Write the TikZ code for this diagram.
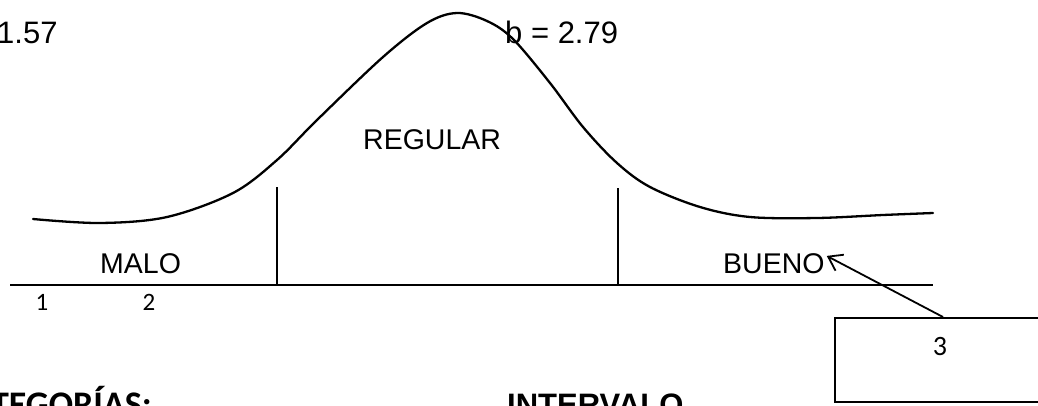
\documentclass[tikz,border=0pt]{standalone}
\usepackage{fontspec}
\setmainfont{Liberation Sans}
\newfontfamily\calib{Carlito}
\usetikzlibrary{arrows.meta,calc}
\begin{document}
\begin{tikzpicture}[x=1pt,y=-1pt,
  lbl/.style={inner sep=0pt, anchor=base west, font=\fontsize{28.5}{30}\selectfont},
  big/.style={inner sep=0pt, anchor=base west, font=\fontsize{31}{33}\selectfont},
  num/.style={inner sep=0pt, anchor=base, font=\calib\fontsize{25}{27}\selectfont},
  ln/.style={line width=1.8pt},
  crv/.style={line width=2.3pt, line join=round, line cap=round},
  head/.style={inner sep=0pt, font=\bfseries\fontsize{31}{33}\selectfont}]
\useasboundingbox (0,0) rectangle (1038,405);
\clip (0,0) rectangle (1038,405);
% labels
\node[big] (a) at (-3,43) {1.57};
\node[big] (b) at (505,43) {b = 2.79};
\node[lbl] (regular) at (363,149) {REGULAR};
\node[lbl] (malo) at (100,273) {MALO};
\node[lbl] (bueno) at (723,273) {BUENO};
\node[num] (n1) at (42,310) {1};
\node[num] (n2) at (149,310) {2};
% curve
\draw[crv] plot[smooth, tension=0.55] coordinates {
 (33,219) (100,223) (167,217) (233,193) (277,160) (317,120) (383,57)
 (427,23) (457,13) (487,21) (513,39) (550,83) (583,127) (617,163)
 (650,187) (700,207) (750,217) (817,218) (883,215) (933,213)};
% axis and verticals
\coordinate (axL) at (10,285);
\coordinate (axR) at (933,285);
\coordinate (v1b) at (277,285);
\coordinate (v1t) at (277,187);
\coordinate (v2b) at (618,285);
\coordinate (v2t) at (618,188);
\draw[ln] (axL) -- (axR);
\draw[ln] (v1b) -- (v1t);
\draw[ln] (v2b) -- (v2t);
% box
\node[draw, ln, anchor=north west, inner sep=0pt, minimum width=230pt, minimum height=84pt] (box) at (834,317) {};
\node[num, font=\calib\fontsize{28}{30}\selectfont] (n3) at (940,355) {3};
\coordinate (astart) at (943,317);
\coordinate (atip) at ($(bueno.north east)+(2,3)$);
\draw[ln, -{Straight Barb[length=13pt,width=18pt,line width=1.8pt]}] (astart) -- (atip);
% bottom headings
\node[inner sep=0pt, anchor=base east, font=\calib\bfseries\fontsize{36}{38}\selectfont] (cat) at (152,416) {CATEGORÍAS:};
\node[head, anchor=base west] (int) at (507,415) {INTERVALO};
\end{tikzpicture}
\end{document}
